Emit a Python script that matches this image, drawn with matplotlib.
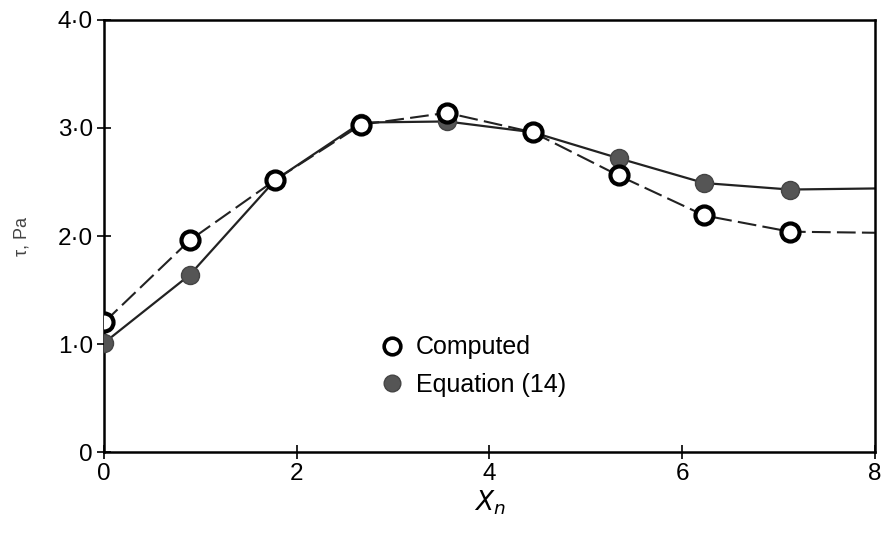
import matplotlib.pyplot as plt
from matplotlib.lines import Line2D

plt.rcParams['font.family'] = ['Liberation Sans', 'DejaVu Sans']

# data
x_pts = [0, 0.89, 1.78, 2.67, 3.56, 4.45, 5.34, 6.23, 7.12]
computed = [1.20, 1.96, 2.52, 3.03, 3.14, 2.96, 2.56, 2.19, 2.04]
equation = [1.01, 1.64, 2.52, 3.05, 3.06, 2.96, 2.72, 2.49, 2.43]
# the curves run on to the right edge with no marker
x_end = 8
computed_end = 2.03
equation_end = 2.44

ytick_vals = [0, 1, 2, 3, 4]
ytick_labels = ['0', '1\u00b70', '2\u00b70', '3\u00b70', '4\u00b70']
xtick_vals = [0, 2, 4, 6, 8]

fig = plt.figure(figsize=(8.81, 5.37), dpi=100)
ax = fig.add_axes([0.118, 0.158, 0.875, 0.805])

ax.plot(x_pts + [x_end], equation + [equation_end], color='#222222', lw=1.6, zorder=2)
ax.plot(x_pts + [x_end], computed + [computed_end], color='#222222', lw=1.5,
        dashes=(9, 3), zorder=2)
ax.plot(x_pts, equation, 'o', ms=13, color='#555555', mec='#444444', zorder=3)
ax.plot(x_pts, computed, 'o', ms=13, mfc='white', mec='black', mew=3, zorder=4)

ax.set_xlim(0, 8)
ax.set_ylim(0, 4)
ax.set_xticks(xtick_vals)
ax.set_yticks(ytick_vals)
ax.set_yticklabels(ytick_labels)
ax.tick_params(direction='inout', length=10, width=1.2, labelsize=17.5, pad=3)
for s in ax.spines.values():
    s.set_linewidth(1.8)

ax.set_xlabel('$X_n$', fontsize=19, labelpad=2)
ax.set_ylabel('\u03c4, Pa', fontsize=13, color='#444444')
ax.yaxis.set_label_coords(-0.095, 0.5)

handles = [Line2D([], [], ls='none', marker='o', ms=12, mfc='white', mec='black', mew=2.6),
           Line2D([], [], ls='none', marker='o', ms=12, color='#555555', mec='#444444')]
ax.legend(handles, ['Computed', 'Equation (14)'], loc='upper left',
          bbox_to_anchor=(0.328, 0.322), frameon=False, fontsize=18,
          handlelength=1.0, handletextpad=0.45, labelspacing=0.55)

fig.savefig('out.png', dpi=100)
